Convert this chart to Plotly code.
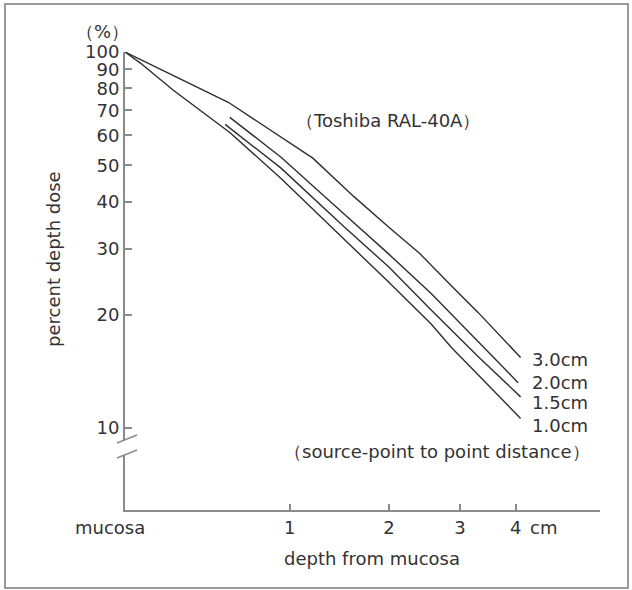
import math
import plotly.graph_objects as go

# ---------------- data ----------------
# depth from mucosa in cm (0 = mucosa), percent depth dose
depth_30 = [0, 0.55, 1.2, 1.6, 2.0, 2.4, 2.85, 3.3, 4.1]
dose_30 = [100, 73.5, 52.2, 41.3, 34.2, 29.1, 24.0, 20.3, 15.4]

depth_20 = [0.56, 0.93, 1.5, 2.0, 2.56, 3.3, 4.05]
dose_20 = [67.0, 52.5, 37.1, 29.0, 22.8, 17.0, 13.2]

depth_15 = [0.53, 0.93, 1.5, 2.0, 2.56, 3.3, 4.1]
dose_15 = [64.2, 49.1, 34.3, 26.8, 20.6, 15.5, 12.1]

depth_10 = [0, 0.07, 0.23, 0.56, 0.93, 1.5, 2.0, 2.56, 2.86, 4.1]
dose_10 = [100, 93.3, 79.1, 61.1, 46.1, 31.8, 24.4, 18.9, 16.4, 10.6]

series_names = ["3.0cm", "2.0cm", "1.5cm", "1.0cm"]
series_depths = [depth_30, depth_20, depth_15, depth_10]
series_doses = [dose_30, dose_20, dose_15, dose_10]

x_tick_values = [1, 2, 3, 4]
x_tick_labels = ["1", "2", "3", "4"]
y_tick_values = [10, 20, 30, 40, 50, 60, 70, 80, 90, 100]
y_tick_labels = ["10", "20", "30", "40", "50", "60", "70", "80", "90", "100"]

# the depth axis of the original is logarithmic in (depth + offset)
DEPTH_OFFSET = 1.1

# ---------------- figure ----------------
W, H = 632, 590
ML, MR, MT, MB = 125, 32, 52, 80
PW, PH = W - ML - MR, H - MT - MB

FONT = "DejaVu Sans, Liberation Sans, Arial, sans-serif"
TXT = "#333333"
AX = "#8a8a8a"
LINE = "#2e2e2e"
FS = 18

def px(xp):
    return (xp - ML) / PW

def py(yp):
    return (H - MB - yp) / PH

fig = go.Figure()
for name, d, v in zip(series_names, series_depths, series_doses):
    fig.add_trace(go.Scatter(
        x=[di + DEPTH_OFFSET for di in d], y=v, mode="lines", name=name,
        line=dict(color=LINE, width=1.4), showlegend=False, hoverinfo="skip"))

x_lo = math.log10(DEPTH_OFFSET)
x_hi = x_lo + PW / 586.4
y_hi = 2.0
y_lo = y_hi - PH / 376.0

fig.update_xaxes(
    type="log", range=[x_lo, x_hi],
    tickvals=[t + DEPTH_OFFSET for t in x_tick_values], ticktext=x_tick_labels,
    ticks="inside", ticklen=6, tickwidth=1.5, tickcolor=AX,
    showline=True, linecolor=AX, linewidth=2,
    showgrid=False, zeroline=False,
    tickfont=dict(family=FONT, size=FS, color=TXT),
)
fig.update_yaxes(
    type="log", range=[y_lo, y_hi],
    tickvals=y_tick_values, ticktext=y_tick_labels,
    ticks="inside", ticklen=7, tickwidth=1.5, tickcolor=AX,
    showline=True, linecolor=AX, linewidth=2,
    showgrid=False, zeroline=False,
    tickfont=dict(family=FONT, size=FS, color=TXT),
)

shapes = [
    # outer frame
    dict(type="rect", xref="paper", yref="paper", x0=px(5), x1=px(628), y0=py(588), y1=py(4),
         line=dict(color="#9a9a9a", width=2), fillcolor="rgba(0,0,0,0)", layer="below"),
    # axis break
    dict(type="rect", xref="paper", yref="paper", x0=px(121), x1=px(129), y0=py(455), y1=py(440),
         line=dict(width=0), fillcolor="white", layer="above"),
    dict(type="line", xref="paper", yref="paper", x0=px(117), x1=px(137), y0=py(443), y1=py(435),
         line=dict(color=AX, width=1.5), layer="above"),
    dict(type="line", xref="paper", yref="paper", x0=px(117), x1=px(137), y0=py(458), y1=py(450),
         line=dict(color=AX, width=1.5), layer="above"),
]

def note(text, x, y, xanchor="center", angle=0):
    return dict(text=text, xref="paper", yref="paper", x=px(x), y=py(y), xanchor=xanchor,
                yanchor="middle", showarrow=False, textangle=angle,
                font=dict(family=FONT, size=FS, color=TXT))

annotations = [
    note("（%）", 102, 32),
    note("percent depth dose", 53, 259, angle=-90),
    note("depth from mucosa", 372, 558),
    note("mucosa", 110, 527),
    note("cm", 543, 527),
    note("（Toshiba RAL-40A）", 388, 120),
    note("（source-point to point distance）", 437, 451),
]
label_y = [359, 382, 402, 425]
for name, ly in zip(series_names, label_y):
    annotations.append(note(name, 530, ly, xanchor="left"))

fig.update_layout(
    width=W, height=H, margin=dict(l=ML, r=MR, t=MT, b=MB),
    paper_bgcolor="white", plot_bgcolor="white",
    shapes=shapes, annotations=annotations, showlegend=False,
)

fig.write_html("out.html", config={"displayModeBar": False},
               post_script="document.body.style.margin='0';")
